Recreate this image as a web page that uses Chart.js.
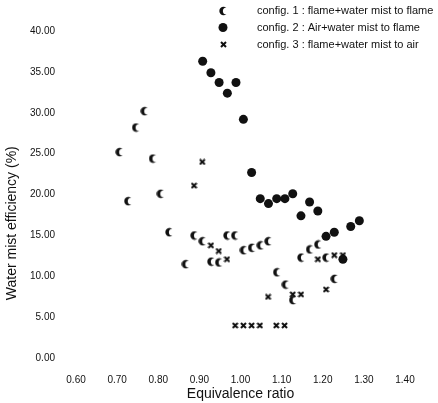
<!DOCTYPE html>
<html>
<head>
<meta charset="utf-8">
<script src="https://cdn.jsdelivr.net/npm/chart.js@4.4.1/dist/chart.umd.min.js"></script>
<style>
  html, body { margin: 0; padding: 0; background: #fff; }
  #wrap { position: relative; width: 438px; height: 403px; }
</style>
</head>
<body>
<div id="wrap"><canvas id="chart-mist"></canvas></div>
<script>
// ── Data: equivalence ratio (x) vs water mist efficiency in % (y) ────────────

const config1X = [0.766, 0.745, 0.705, 0.786, 0.805, 0.726, 0.826, 0.887, 0.907, 0.967, 0.986,
  0.866, 0.928, 0.947, 1.007, 1.027, 1.048, 1.067, 1.147, 1.168, 1.188, 1.208, 1.088, 1.109, 1.127, 1.228];
const config1Y = [30.2, 28.2, 25.2, 24.4, 20.1, 19.2, 15.4, 15.0, 14.3, 15.0, 15.0,
  11.5, 11.8, 11.7, 13.2, 13.5, 13.8, 14.3, 12.3, 13.3, 13.9, 12.3, 10.5, 9.0, 7.1, 9.7];

const config2X = [0.908, 0.928, 0.948, 0.968, 0.989, 1.007, 1.027, 1.048, 1.068, 1.088,
  1.108, 1.127, 1.147, 1.168, 1.188, 1.208, 1.228, 1.268, 1.289, 1.249];
const config2Y = [36.3, 34.9, 33.7, 32.4, 33.7, 29.2, 22.7, 19.5, 18.9, 19.5,
  19.5, 20.1, 17.4, 19.1, 18.0, 14.9, 15.4, 16.1, 16.8, 12.1];

const config3X = [0.907, 0.887, 0.928, 0.947, 0.967, 1.188, 1.228, 1.249, 1.067, 1.127,
  1.147, 1.208, 0.987, 1.007, 1.027, 1.047, 1.087, 1.107];
const config3Y = [24.0, 21.1, 13.8, 13.1, 12.1, 12.1, 12.6, 12.6, 7.5, 7.8,
  7.8, 8.4, 4.0, 4.0, 4.0, 4.0, 4.0, 4.0];

const seriesLabels = [
  'config. 1 : flame+water mist to flame',
  'config. 2 : Air+water mist to flame',
  'config. 3 : flame+water mist to air',
];

const xTicks = [0.6, 0.7, 0.8, 0.9, 1.0, 1.1, 1.2, 1.3, 1.4];
const yTicks = [0, 5, 10, 15, 20, 25, 30, 35, 40];

const INK = '#111';
const FONT = "'Liberation Sans', Arial, sans-serif";

// ── Marker shapes ─────────────────────────────────────────────────────────────

function crescentMarker() {
  const c = document.createElement('canvas');
  c.width = 8; c.height = 10;
  const g = c.getContext('2d');
  g.fillStyle = INK;
  g.beginPath();
  g.arc(4.5, 5, 4.2, 0, Math.PI * 2);
  g.fill();
  g.globalCompositeOperation = 'destination-out';
  g.beginPath();
  g.arc(7.5, 5, 3.6, 0, Math.PI * 2);
  g.fill();
  return c;
}

function crossMarker() {
  const c = document.createElement('canvas');
  c.width = 7; c.height = 7;
  const g = c.getContext('2d');
  g.strokeStyle = INK;
  g.fillStyle = INK;
  g.lineWidth = 2;
  g.beginPath();
  g.moveTo(1, 1); g.lineTo(6, 6);
  g.moveTo(6, 1); g.lineTo(1, 6);
  g.stroke();
  g.fillRect(2, 2, 3, 3);
  return c;
}

const pts = (xs, ys) => xs.map((x, i) => ({ x, y: ys[i] }));

// ── Legend drawn in the top-right corner ──────────────────────────────────────

const cornerLegend = {
  id: 'cornerLegend',
  afterDraw(chart) {
    const { ctx } = chart;
    ctx.save();
    ctx.font = `11px ${FONT}`;
    ctx.fillStyle = INK;
    ctx.textBaseline = 'middle';
    chart.data.datasets.forEach((ds, i) => {
      const y = 10.5 + i * 17;
      const sx = 223;
      if (ds.pointStyle === 'circle') {
        ctx.beginPath();
        ctx.arc(sx, y, 4.5, 0, Math.PI * 2);
        ctx.fill();
      } else {
        const m = ds.legendMarker;
        ctx.drawImage(m, Math.round(sx - m.width / 2), Math.round(y - m.height / 2));
      }
      ctx.fillText(ds.label, 257, y);
    });
    ctx.restore();
  },
};

// ── Rotated y title, centred a little below the plot middle ───────────────────

const yTitle = {
  id: 'yTitle',
  afterDraw(chart) {
    const { ctx, scales } = chart;
    ctx.save();
    ctx.font = `14px ${FONT}`;
    ctx.fillStyle = INK;
    ctx.textAlign = 'center';
    ctx.textBaseline = 'middle';
    ctx.translate(12, scales.y.getPixelForValue(16.5));
    ctx.rotate(-Math.PI / 2);
    ctx.fillText('Water mist efficiency (%)', 0, 0);
    ctx.restore();
  },
};

const crescent = crescentMarker();
const cross = crossMarker();

new Chart(document.getElementById('chart-mist'), {
  type: 'scatter',
  data: {
    datasets: [
      { label: seriesLabels[0], data: pts(config1X, config1Y), pointStyle: crescent, legendMarker: crescentMarker() },
      { label: seriesLabels[1], data: pts(config2X, config2Y), pointStyle: 'circle', pointRadius: 4.5,
        backgroundColor: INK, borderColor: INK, borderWidth: 0 },
      { label: seriesLabels[2], data: pts(config3X, config3Y), pointStyle: cross, legendMarker: crossMarker() },
    ],
  },
  options: {
    responsive: true,
    maintainAspectRatio: false,
    animation: false,
    layout: { padding: { top: 31, right: 33, left: 9, bottom: 0 } },
    plugins: {
      legend: { display: false },
      tooltip: { enabled: false },
    },
    scales: {
      x: {
        type: 'linear',
        min: xTicks[0],
        max: xTicks[xTicks.length - 1],
        afterBuildTicks: axis => { axis.ticks = xTicks.map(v => ({ value: v })); },
        grid: { display: false, drawTicks: false },
        border: { display: false },
        ticks: {
          padding: 16,
          color: INK,
          font: { size: 10, family: FONT },
          callback: v => v.toFixed(2),
        },
        title: {
          display: true,
          text: 'Equivalence ratio',
          color: INK,
          font: { size: 14, family: FONT },
          // pulls the title up under the tick row
          padding: { top: -16, bottom: 0 },
        },
      },
      y: {
        min: yTicks[0],
        max: yTicks[yTicks.length - 1],
        afterBuildTicks: axis => { axis.ticks = yTicks.map(v => ({ value: v })); },
        grid: { display: false, drawTicks: false },
        border: { display: false },
        ticks: {
          padding: 21,
          color: INK,
          font: { size: 10, family: FONT },
          callback: v => v.toFixed(2),
        },
      },
    },
  },
  plugins: [cornerLegend, yTitle],
});
</script>
</body>
</html>
